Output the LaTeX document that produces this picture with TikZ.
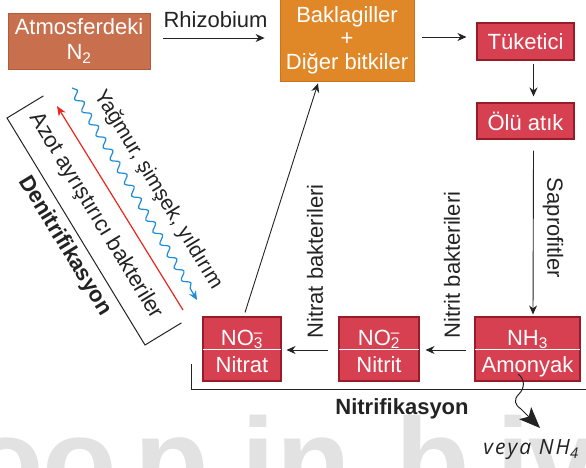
\documentclass[tikz,border=0pt]{standalone}
\usepackage{fontspec}
\setmainfont{Liberation Sans}
\newfontfamily\handfont[LetterSpace=10]{Open Sans}
\usetikzlibrary{arrows.meta,decorations.pathmorphing,calc}

\definecolor{atmosfill}{RGB}{200,112,78}
\definecolor{atmosline}{RGB}{178,90,60}
\definecolor{legfill}{RGB}{224,136,40}
\definecolor{legline}{RGB}{204,116,28}
\definecolor{redfill}{RGB}{214,64,80}
\definecolor{redline}{RGB}{150,28,40}
\definecolor{wavecol}{RGB}{30,140,215}
\definecolor{arrowred}{RGB}{232,40,30}
\definecolor{ink}{RGB}{35,35,35}
\definecolor{wmark}{RGB}{226,226,226}

\newcommand{\basefont}{\fontsize{22}{25}\selectfont}
\newcommand{\ionsub}[2]{\rlap{\textsubscript{#1}}\textsuperscript{#2}}

\begin{document}
\begin{tikzpicture}[x=1pt, y=-1pt, font=\basefont]
\tikzset{
  every node/.style={inner sep=0pt, text=ink},
  box/.style={draw, line width=0.8pt, align=center, text=white},
  atmosbox/.style={box, fill=atmosfill, draw=atmosline},
  legbox/.style={box, fill=legfill, draw=legline},
  redbox/.style={box, fill=redfill, draw=redline, line width=1.1pt},
  boxtext/.style={text=white, anchor=base},
  flow/.style={draw=ink, line width=0.9pt, -{Stealth[length=9pt,width=8pt]}},
  bracket/.style={draw=ink, line width=1pt},
  diag/.style={rotate=-58.7},
  wm/.style={text=wmark, font=\fontsize{122}{122}\selectfont\bfseries, anchor=base},
}
\useasboundingbox (0,0) rectangle (586,468);

% faint background lettering
\node[wm] (w1) at (7,503) {o};
\node[wm] (w2) at (80,503) {o};
\node[wm] (w3) at (172,503) {p};
\node[wm] (w4) at (258,503) {i};
\node[wm] (w5) at (314,503) {n};
\node[wm] (w6) at (433,503) {b};
\node[wm] (w7) at (513,503) {i};
\node[wm] (w8) at (562,503) {v};

% top row
\node[atmosbox, minimum width=142pt, minimum height=56pt] (atmos) at (79,41) {Atmosferdeki\\N\textsubscript{2}};
\node[legbox, minimum width=134pt, minimum height=82pt, font=\fontsize{22}{23.5}\selectfont] (legume) at (347,40) {Baklagiller\\+\\Diğer bitkiler};
\node[redbox, minimum width=97pt, minimum height=37pt] (cons) at (525.5,41.5) {Tüketici};
\node[redbox, minimum width=97pt, minimum height=36pt] (dead) at (525.5,121) {Ölü atık};

% bottom row
\node[redbox, minimum width=105pt, minimum height=64pt] (nh3) at (527.5,349) {};
\node[redbox, minimum width=80pt, minimum height=64pt] (no2) at (379,349) {};
\node[redbox, minimum width=78pt, minimum height=64pt] (no3) at (242,349) {};
\foreach \b in {nh3,no2,no3}
  \draw[white, line width=1pt] ([xshift=1pt]\b.west) -- ([xshift=-1pt]\b.east);
\node[boxtext] (nh3top) at (527.5,345) {NH\textsubscript{3}};
\node[boxtext] (nh3bot) at (527.5,372) {Amonyak};
\node[boxtext] (no2top) at (379,345) {NO\ionsub{2}{–}};
\node[boxtext] (no2bot) at (379,372) {Nitrit};
\node[boxtext] (no3top) at (242,345) {NO\ionsub{3}{–}};
\node[boxtext] (no3bot) at (242,372) {Nitrat};

% main cycle arrows
\draw[flow] ($(atmos.east)+(13,-3)$) -- ($(atmos.east -| legume.west)+(-15,-3)$);
\node[anchor=base] (rhizo) at (215.5,27.5) {Rhizobium};
\draw[flow] ($(legume.east)+(8,-3)$) -- ($(legume.east -| cons.west)+(-10,-3)$);
\draw[flow] ($(cons.south)+(8,3)$) -- ($(dead.north)+(8,-6)$);
\draw[flow] ($(dead.south)+(8,11)$) -- ($(nh3.north)+(5.5,-2)$);
\node[rotate=-90] (sapro) at (553,228) {Saprofitler};
\draw[flow] ($(nh3.west)+(-8,1)$) -- ($(no2.east)+(6,1)$);
\node[rotate=90] (nitbak) at (452,265) {Nitrit bakterileri};
\draw[flow] ($(no2.west)+(-10,1)$) -- ($(no3.east)+(5,1)$);
\node[rotate=90] (natbak) at (315,261.5) {Nitrat bakterileri};
\draw[flow] ($(no3.north)+(3,-4)$) -- ($(legume.south)+(-29,2)$);

% nitrification bracket
\coordinate (nb1) at (191,364);
\coordinate (nb2) at (587,389);
\draw[bracket] (nb1) |- (nb2);
\node[anchor=base, font=\basefont\bfseries] (nitri) at (402,414) {Nitrifikasyon};

% ammonium side branch
\coordinate (sq1) at (518,374);
\coordinate (sq2) at (519,394);
\coordinate (sq3) at (521,409);
\coordinate (sq4) at (540,428);
\draw[ink, line width=1pt, -{Stealth[length=21pt,width=17pt,inset=5pt]}]
  (sq1) .. controls (525,379) and (525,388) .. (sq2)
        .. controls (513,400) and (515,405) .. (sq3) -- (sq4);
\node[font=\handfont\fontsize{21}{22}\selectfont\itshape] (nh4) at (531,450) {veya NH\textsubscript{4}};

% denitrification side
\coordinate (lb1) at (43.4,95.9);
\coordinate (lb2) at (7,118);
\coordinate (lb3) at (145,345);
\coordinate (lb4) at (181.4,322.9);
\draw[bracket] (lb1) -- (lb2) -- (lb3) -- (lb4);
\coordinate (ra1) at (183,310);
\coordinate (ra2) at (57,106);
\draw[arrowred, line width=1.2pt, -{Stealth[length=10pt,width=8pt]}] (ra1) -- (ra2);
\coordinate (wv1) at (72,88);
\coordinate (wv2) at (197,300);
\draw[wavecol, line width=1.2pt, decorate,
  decoration={snake, amplitude=3.5pt, segment length=14pt, post length=8pt},
  -{Stealth[length=9pt,width=8pt]}] (wv1) -- (wv2);
\node[diag, font=\fontsize{21}{24}\selectfont] (rain) at (158,190) {Yağmur, şimşek, yıldırım};
\node[diag] (azot) at (96,216) {Azot ayrıştırıcı bakteriler};
\node[diag, font=\basefont\bfseries] (denit) at (65,246) {Denitrifikasyon};
\end{tikzpicture}
\end{document}
